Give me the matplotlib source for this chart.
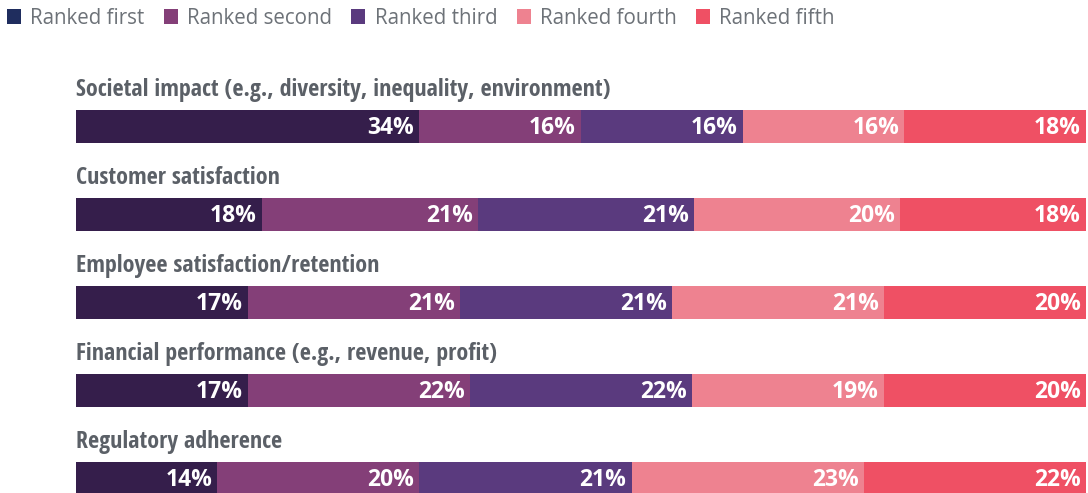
import matplotlib
matplotlib.use("Agg")
import matplotlib.pyplot as plt
from matplotlib.patches import Patch
import numpy as np

categories = [
    "Societal impact (e.g., diversity, inequality, environment)",
    "Customer satisfaction",
    "Employee satisfaction/retention",
    "Financial performance (e.g., revenue, profit)",
    "Regulatory adherence",
]
series = ["Ranked first", "Ranked second", "Ranked third", "Ranked fourth", "Ranked fifth"]
values = np.array([
    [34, 16, 16, 16, 18],
    [18, 21, 21, 20, 18],
    [17, 21, 21, 21, 20],
    [17, 22, 22, 19, 20],
    [14, 20, 21, 23, 22],
])

bar_colors = ["#351e4b", "#843f78", "#5a3a7e", "#ee8290", "#ef5064"]
legend_colors = ["#1f2d5e", "#843f78", "#5a3a7e", "#ee8290", "#ef5064"]

cond = ["Open Sans Condensed", "Roboto Condensed", "Asap Condensed", "DejaVu Sans"]
sans = ["Open Sans", "DejaVu Sans"]

fig = plt.figure(figsize=(10.88, 4.93), dpi=100)
ax = fig.add_axes([76 / 1088, 0, 1010 / 1088, 1])
ax.set_xlim(0, 1)
ax.set_ylim(493, 0)
ax.axis("off")

# bars fill the full width: each row is scaled to its own total
shares = values / values.sum(axis=1, keepdims=True)
for i, cat in enumerate(categories):
    yc = 126.5 + 88 * i
    left = 0
    for j in range(len(series)):
        w = shares[i, j]
        ax.barh(yc, w, left=left, height=33, color=bar_colors[j], linewidth=0)
        ax.text(left + w - 5 / 1010, yc + 1, f"{values[i, j]}%", ha="right", va="center",
                color="white", fontsize=16.5, fontweight="bold", family=sans)
        left += w
    ax.text(0, yc - 30, cat, ha="left", va="baseline", color="#5b6067",
            fontsize=17.3, fontweight="bold", family=cond)

handles = [Patch(facecolor=c, edgecolor="none") for c in legend_colors]
fig.legend(handles, series, loc="upper left", bbox_to_anchor=(-0.011, 1.022), ncol=5,
           frameon=False, labelcolor="#6d7278",
           prop={"family": sans, "size": 14.8},
           handlelength=0.68, handleheight=0.68, handletextpad=0.45, columnspacing=0.95)

fig.savefig("out.png", dpi=100)
